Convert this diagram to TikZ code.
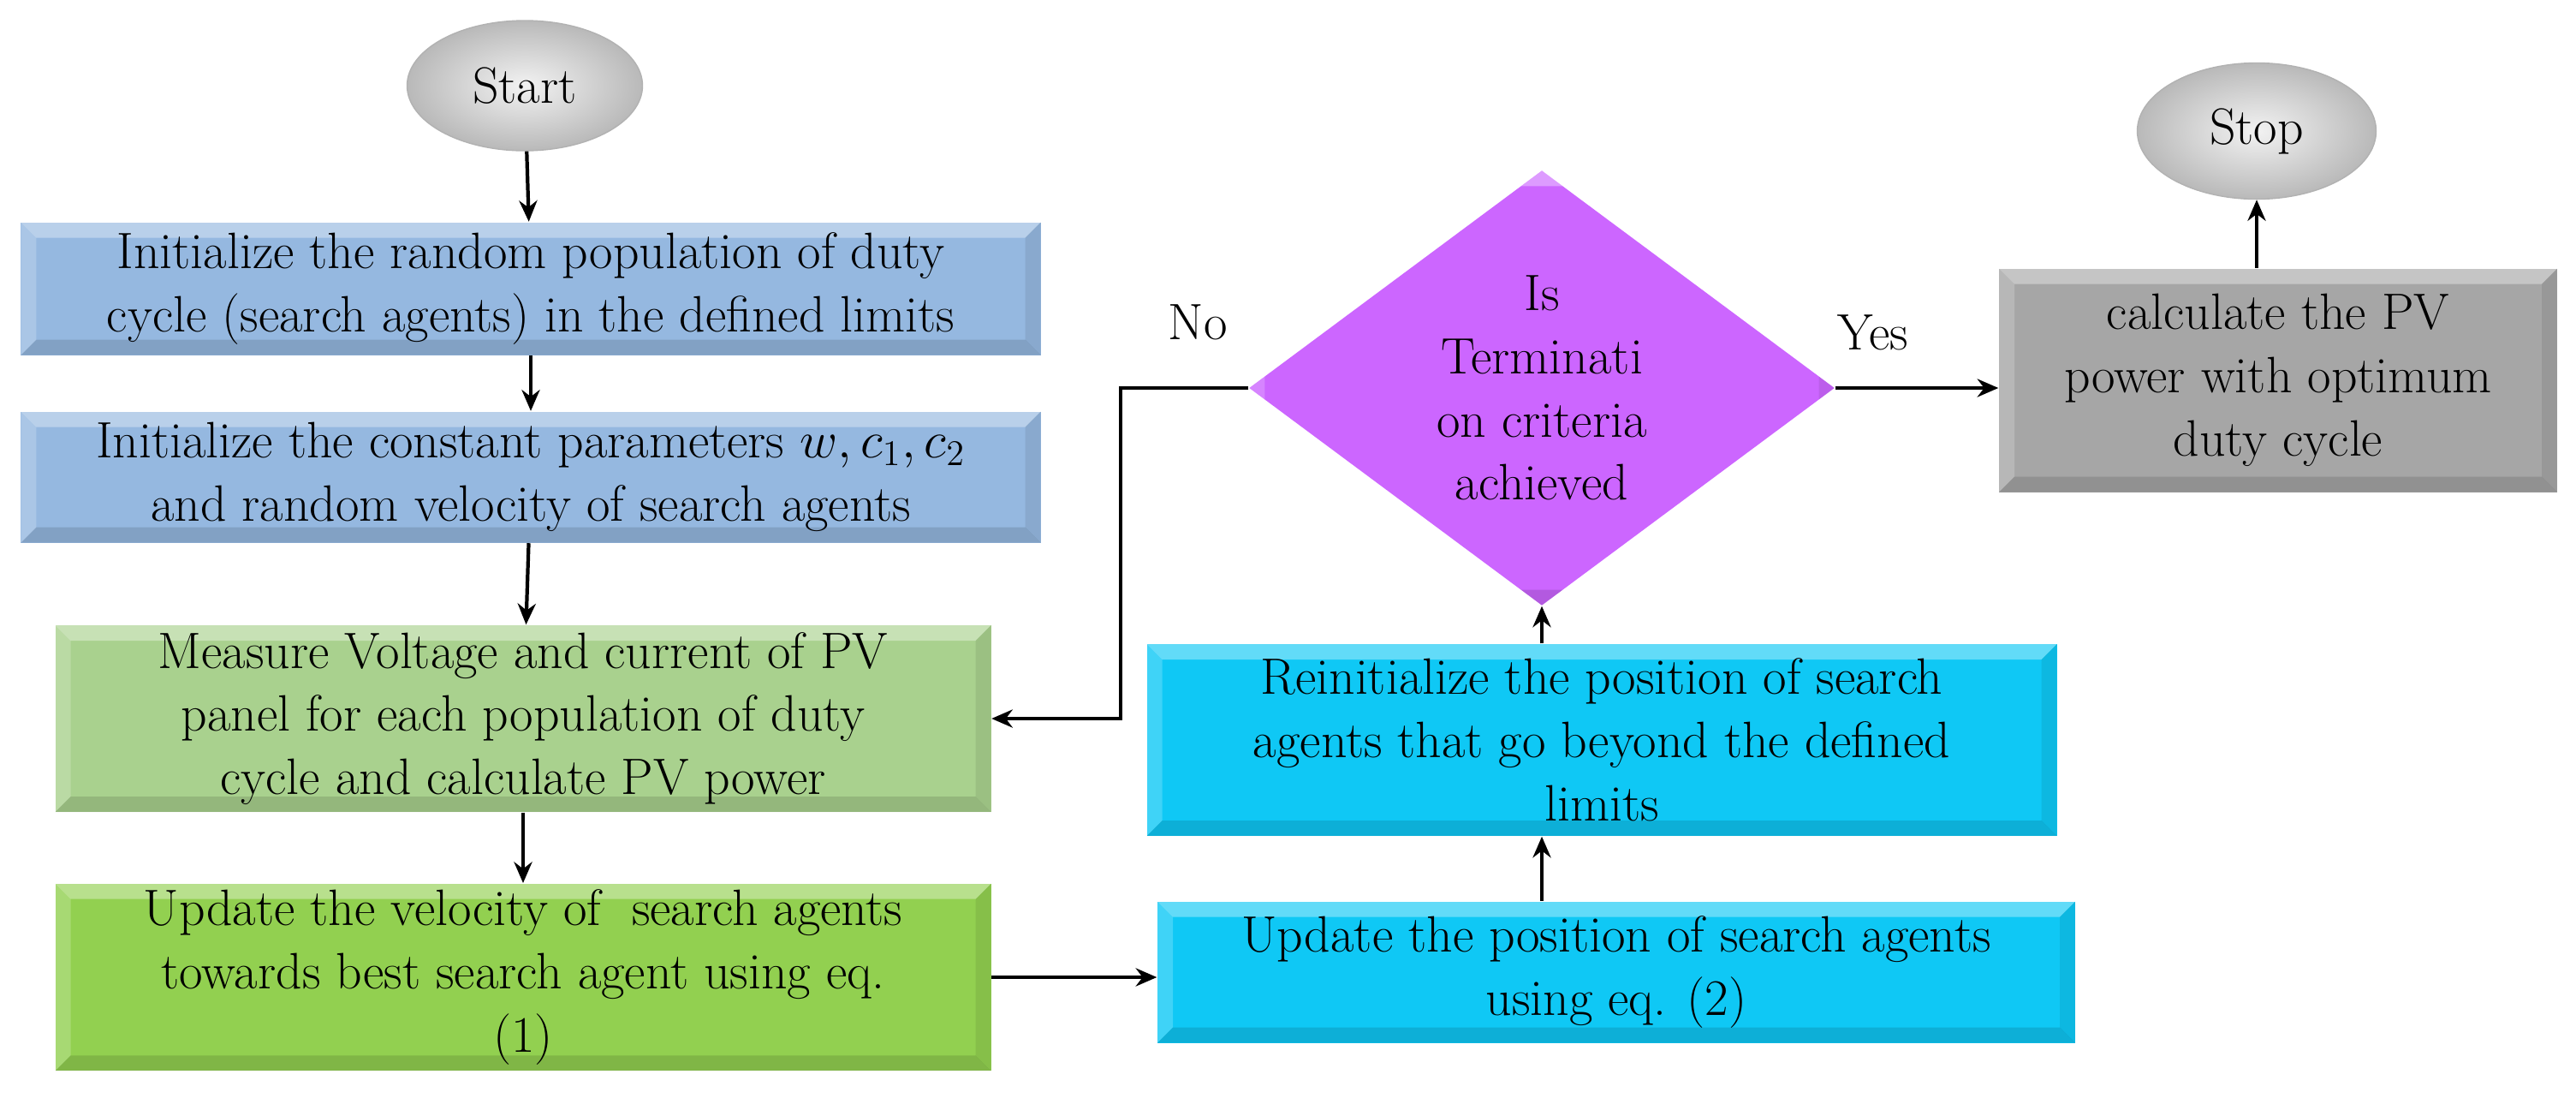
\documentclass[tikz,border=0pt]{standalone}
\usepackage{tikz}
\usetikzlibrary{shapes.geometric,calc,arrows.meta}

\definecolor{initblue}{HTML}{95B8E0}
\definecolor{measgreen}{HTML}{A9D18E}
\definecolor{velgreen}{HTML}{92D050}
\definecolor{posblue}{HTML}{0FC8F5}
\definecolor{termviolet}{HTML}{CC66FF}
\definecolor{calcgray}{HTML}{A6A6A6}

\tikzset{
  bevel/.style={path picture={
      \fill[white,opacity=.35] (path picture bounding box.north west) -- (path picture bounding box.north east)
        -- ($(path picture bounding box.north east)+(-.18,-.18)$) -- ($(path picture bounding box.north west)+(.18,-.18)$) -- cycle;
      \fill[white,opacity=.2] (path picture bounding box.north west) -- (path picture bounding box.south west)
        -- ($(path picture bounding box.south west)+(.18,.18)$) -- ($(path picture bounding box.north west)+(.18,-.18)$) -- cycle;
      \fill[black,opacity=.12] (path picture bounding box.south west) -- (path picture bounding box.south east)
        -- ($(path picture bounding box.south east)+(-.18,.18)$) -- ($(path picture bounding box.south west)+(.18,.18)$) -- cycle;
      \fill[black,opacity=.08] (path picture bounding box.north east) -- (path picture bounding box.south east)
        -- ($(path picture bounding box.south east)+(-.18,.18)$) -- ($(path picture bounding box.north east)+(-.18,-.18)$) -- cycle;
    }},
  box/.style={rectangle,bevel,align=center,inner sep=2pt,font=\fontsize{17}{21}\selectfont},
  terminal/.style={ellipse,draw=gray!60,inner color=gray!10,outer color=gray!55,font=\fontsize{17}{21}\selectfont},
  flow/.style={-{Stealth[length=7pt,width=6pt]},line width=1.2pt},
}

\begin{document}
\begin{tikzpicture}
\useasboundingbox (0,0) rectangle (30.09,-12.81);

% left column
\node[terminal,minimum width=2.75cm,minimum height=1.52cm] (start) at (6.13,-1.00) {Start};
\node[box,fill=initblue,minimum width=11.91cm,minimum height=1.55cm] (init) at (6.20,-3.37)
  {Initialize the random population of duty\\cycle (search agents) in the defined limits};
\node[box,fill=initblue,minimum width=11.91cm,minimum height=1.53cm] (param) at (6.20,-5.57)
  {Initialize the constant parameters $w, c_1, c_2$\\and random velocity of search agents};
\node[box,fill=measgreen,minimum width=10.93cm,minimum height=2.18cm] (measure) at (6.11,-8.39)
  {Measure Voltage and current of PV\\panel for each population of duty\\cycle and calculate PV power};
\node[box,fill=velgreen,minimum width=10.93cm,minimum height=2.17cm] (velocity) at (6.11,-11.41)
  {Update the velocity of~ search agents\\towards best search agent using eq.\\(1)};

% right part
\node[box,fill=posblue,minimum width=10.72cm,minimum height=1.65cm] (update) at (18.88,-11.35)
  {Update the position of search agents\\using eq. (2)};
\node[box,fill=posblue,minimum width=10.63cm,minimum height=2.24cm] (reinit) at (18.71,-8.64)
  {Reinitialize the position of search\\agents that go beyond the defined\\limits};
\node[diamond,bevel,fill=termviolet,minimum width=6.84cm,minimum height=4.46cm,inner sep=0pt,align=center,
  font=\fontsize{17}{21}\selectfont] (term) at (18.01,-4.53) {Is\\Terminati\\on criteria\\achieved};
\node[box,fill=calcgray,minimum width=6.52cm,minimum height=2.61cm] (calc) at (26.61,-4.44)
  {calculate the PV\\power with optimum\\duty cycle};
\node[terminal,minimum width=2.79cm,minimum height=1.59cm] (stop) at (26.36,-1.53) {Stop};

\node[font=\fontsize{17}{21}\selectfont] (no) at (13.99,-3.76) {No};
\node[font=\fontsize{17}{21}\selectfont] (yes) at (21.88,-3.88) {Yes};
\coordinate (noturn) at (13.09,-4.53);

\draw[flow] (start) -- (init);
\draw[flow] (init) -- (param);
\draw[flow] (param) -- (measure);
\draw[flow] (measure) -- (velocity);
\draw[flow] (velocity.east) -- (velocity.east -| update.west);
\draw[flow] (update.north -| term.south) -- (reinit.south -| term.south);
\draw[flow] (reinit.north -| term.south) -- (term.south);
\draw[flow] (term.east) -- (term.east -| calc.west);
\draw[flow] (calc.north -| stop.south) -- (stop.south);
\draw[flow] (term.west) -- (noturn) |- (measure.east);
\end{tikzpicture}
\end{document}
